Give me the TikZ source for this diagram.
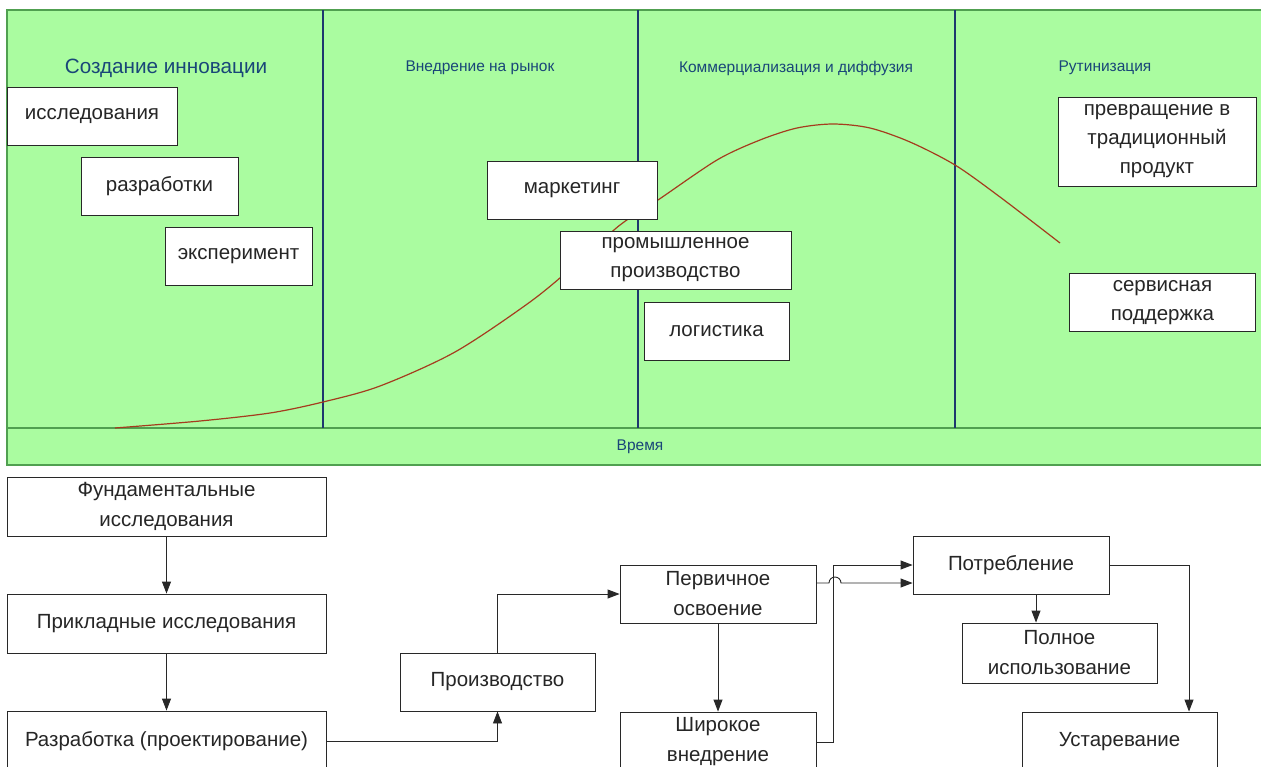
\documentclass[tikz,border=0pt]{standalone}
\usepackage{fontspec}
\setmainfont{Liberation Sans}
\usetikzlibrary{arrows.meta}
\definecolor{panel}{RGB}{170,252,160}
\definecolor{panelline}{RGB}{80,160,80}
\definecolor{divline}{RGB}{30,55,110}
\definecolor{titlecol}{RGB}{25,70,120}
\definecolor{curvecol}{RGB}{165,60,30}
\definecolor{boxline}{RGB}{40,40,40}
\tikzset{
  tbox/.style={draw=boxline, line width=1pt, fill=white, align=center, inner sep=0pt,
    text=black!85, font=\fontsize{20.5}{29}\selectfont},
  bbox/.style={draw=boxline, line width=0.9pt, fill=white, align=center, inner sep=0pt,
    text=black!85, font=\fontsize{20.5}{30}\selectfont},
  phase/.style={text=titlecol, font=\fontsize{15.5}{18}\selectfont},
  arr/.style={draw=boxline, line width=0.9pt, -{Triangle[length=12pt,width=9pt]}},
  divider/.style={draw=divline, line width=1.2pt}
}
\begin{document}
\begin{tikzpicture}[x=1pt,y=-1pt]
\useasboundingbox (0,0) rectangle (1261,766);
\clip (0,0) rectangle (1261,766);
\fill[white] (0,0) rectangle (1261,766);
% top panel
\draw[fill=panel, draw=panelline, line width=1.5pt] (7,10) rectangle (1280,465);
\draw[draw=panelline, line width=1.5pt] (7,428) -- (1280,428);
\draw[divider] (323,10) -- (323,428);
\draw[divider] (638,10) -- (638,428);
\draw[divider] (955,10) -- (955,428);
% phase titles
\node[text=titlecol, font=\fontsize{20.7}{24}\selectfont] (t1) at (166,68) {Создание инновации};
\node[phase] (t2) at (480,68) {Внедрение на рынок};
\node[phase] (t3) at (796,68) {Коммерциализация и диффузия};
\node[phase] (t4) at (1105,68) {Рутинизация};
\node[phase] (time) at (640,447) {Время};
% curve
\draw[curvecol, line width=1.2pt] plot[smooth, tension=0.5] coordinates {
 (115,428) (200,421) (270,413) (323,402) (380,386) (455,352) (530,302) (575,265)
 (620,225) (658,200) (717,160) (760,140) (797,128) (833,124) (870,128) (910,142)
 (955,165) (1000,197) (1060,243)};
% top boxes
\node[tbox, minimum width=170pt, minimum height=58pt] (issl) at (92,116) {исследования};
\node[tbox, minimum width=157pt, minimum height=58pt] (razr) at (159.5,186) {разработки};
\node[tbox, minimum width=147pt, minimum height=58pt] (eksp) at (238.5,256) {эксперимент};
\node[tbox, minimum width=170pt, minimum height=58pt] (mark) at (572,190) {маркетинг};
\node[tbox, minimum width=231pt, minimum height=58pt] (prom) at (675.5,260) {промышленное\\производство};
\node[tbox, minimum width=145pt, minimum height=58pt] (logi) at (716.5,331) {логистика};
\node[tbox, minimum width=198pt, minimum height=89pt] (prev) at (1157,141.5) {превращение в\\традиционный\\продукт};
\node[tbox, minimum width=186pt, minimum height=58pt] (serv) at (1162.5,302.5) {сервисная\\поддержка};
% bottom boxes
\node[bbox, minimum width=319pt, minimum height=59pt] (fund) at (166.5,506.5) {Фундаментальные\\исследования};
\node[bbox, minimum width=319pt, minimum height=59pt] (prikl) at (166.5,623.5) {Прикладные исследования};
\node[bbox, minimum width=319pt, minimum height=60pt] (razrab) at (166.5,741) {Разработка (проектирование)};
\node[bbox, minimum width=195pt, minimum height=58pt] (proizv) at (497.5,682) {Производство};
\node[bbox, minimum width=196pt, minimum height=58pt] (perv) at (718,594) {Первичное\\освоение};
\node[bbox, minimum width=196pt, minimum height=60pt] (shir) at (718,742) {Широкое\\внедрение};
\node[bbox, minimum width=196pt, minimum height=58pt] (potr) at (1011,565) {Потребление};
\node[bbox, minimum width=195pt, minimum height=60pt] (poln) at (1059.5,653) {Полное\\использование};
\node[bbox, minimum width=195pt, minimum height=60pt] (ustar) at (1119.5,742) {Устаревание};
% connectors
\draw[arr] (fund.south) -- (prikl.north);
\draw[arr] (prikl.south) -- (razrab.north);
\draw[arr] (razrab.east) -| (proizv.south);
\draw[arr] (proizv.north) |- (perv.west);
\draw[arr] (perv.south) -- (shir.north);
\draw[arr] (shir.east) -- ++(17,0) |- (potr.west);
\draw[arr] ([yshift=11pt]perv.east) -- (829,583) arc[start angle=180, end angle=0, radius=6pt] -- ([yshift=-18pt]potr.west);
\draw[arr] ([xshift=25pt]potr.south) -- ([xshift=25pt]potr.south |- poln.north);
\draw[arr] (potr.east) -| ([xshift=69.5pt]ustar.north);
\end{tikzpicture}
\end{document}
